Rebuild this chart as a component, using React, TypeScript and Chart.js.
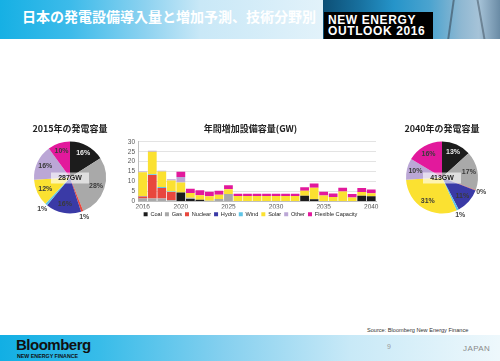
import React, { useEffect, useRef } from "react";
import { Chart, registerables } from "chart.js";

Chart.register(...registerables);

// ---------- data ----------
const technologies = ["Coal", "Gas", "Nuclear", "Hydro", "Wind", "Solar", "Other", "Flexible Capacity"];
const techColors = ["#1c1c1c", "#a9a9a9", "#e8473d", "#3a3aa6", "#5ec4e6", "#fbe131", "#bba7d6", "#e2199c"];

const years = [
  "2016", "2017", "2018", "2019", "2020", "2021", "2022", "2023", "2024", "2025",
  "2026", "2027", "2028", "2029", "2030", "2031", "2032", "2033", "2034", "2035",
  "2036", "2037", "2038", "2039", "2040",
];
const yearTickLabels = ["2016", "2020", "2025", "2030", "2035", "2040"];
const yTickValues = [0, 5, 10, 15, 20, 25, 30];

const coalAdds = [0, 0, 0, 0, 4.5, 1.2, 0.8, 0, 0, 0, 0, 0, 0, 0, 0, 0, 0, 2.8, 1.1, 0, 0, 0, 0, 2.8, 2.6];
const gasAdds = [1.5, 1.5, 1.5, 0.6, 0, 0.6, 0, 0.3, 1.2, 3.7, 0, 0, 0, 0, 0, 0, 0, 0, 0, 0, 0, 0, 0, 0, 0];
const nuclearAdds = [1, 11.8, 5.2, 4.1, 0, 0, 0, 0, 0, 0, 0, 0, 0, 0, 0, 0, 0, 0, 0, 0, 0, 0, 0, 0, 0];
const hydroAdds = [0, 0, 0, 0, 0, 0, 0, 0, 0, 0, 0, 0, 0, 0, 0, 0, 0, 0, 0, 0, 0, 0, 0, 0, 0];
const windAdds = [0.2, 0.4, 0.5, 0.3, 0, 0, 0, 0, 0, 0, 0, 0, 0, 0, 0, 0, 0, 0, 0, 0, 0, 0, 0, 0, 0];
const solarAdds = [12, 11.3, 7.9, 5.5, 5, 2.4, 2.3, 2.3, 2.1, 2.4, 2.7, 2.7, 2.7, 2.7, 2.7, 2.7, 2.7, 2.6, 5.8, 3, 2.2, 5, 2, 1.9, 1.5];
const otherAdds = [0.3, 0.5, 0.3, 0.7, 2.8, 0, 0, 0, 0, 0.2, 0, 0, 0, 0, 0, 0, 0, 0, 0, 0, 0, 0, 0, 0, 0];
const flexAdds = [0, 0, 0, 0, 2.6, 2.2, 2.5, 2.3, 2.1, 1.8, 1.2, 1.2, 1.2, 1.2, 1.2, 1.2, 1.2, 1.7, 2.1, 1.8, 1.8, 1.9, 1.7, 2.1, 1.9];

const share2015 = [16, 28, 1, 16, 1, 12, 16, 10];
const share2040 = [13.2, 17.4, 0.3, 11.4, 1.0, 30.6, 9.6, 16.4];
const total2015 = "287GW";
const total2040 = "413GW";

const barTitle = "年間増加設備容量(GW)";
const pieTitle2015 = "2015年の発電容量";
const pieTitle2040 = "2040年の発電容量";

const LATIN = '"Liberation Sans", Arial, sans-serif';
const CJK = '"Noto Sans CJK JP", "Liberation Sans", sans-serif';

// ---------- pie label plugin ----------
const pieLabelPlugin = {
  id: "pieLabels",
  afterDatasetsDraw(chart: any) {
    const ctx = chart.ctx;
    const meta = chart.getDatasetMeta(0);
    const data = chart.data.datasets[0].data as number[];
    ctx.save();
    ctx.font = `bold 7px ${LATIN}`;
    ctx.textAlign = "center";
    ctx.textBaseline = "middle";
    let cx = 0, cy = 0;
    meta.data.forEach((arc: any, i: number) => {
      const p = arc.getProps(["x", "y", "startAngle", "endAngle", "outerRadius"], true);
      cx = p.x; cy = p.y;
      const mid = (p.startAngle + p.endAngle) / 2;
      const v = data[i];
      const small = v < 3;
      const r = small ? p.outerRadius + 6 : p.outerRadius * 0.76;
      ctx.fillStyle = small ? "#444" : i === 0 ? "#eeeeee" : "#3a3a3a";
      ctx.fillText(Math.round(v) + "%", p.x + Math.cos(mid) * r, p.y + Math.sin(mid) * r);
    });
    const label = chart.options.plugins.pieLabels.center;
    ctx.fillStyle = "rgba(255,255,255,0.62)";
    ctx.fillRect(cx - 19, cy - 5, 38, 11);
    ctx.fillStyle = "#222";
    ctx.font = `bold 7px ${LATIN}`;
    ctx.fillText(label, cx, cy + 0.8);
    ctx.restore();
  },
};

function PieChart({ values, title, center }: { values: number[]; title: string; center: string }) {
  const ref = useRef<HTMLCanvasElement>(null);
  useEffect(() => {
    const chart = new Chart(ref.current!, {
      type: "pie",
      data: {
        labels: technologies,
        datasets: [{ data: values, backgroundColor: techColors, borderWidth: 0 }],
      },
      options: {
        responsive: false,
        animation: false,
        layout: { padding: { top: 0, bottom: 11.5, left: 0, right: 0 } },
        plugins: {
          legend: { display: false },
          tooltip: { enabled: false },
          title: {
            display: true,
            text: title,
            color: "#222",
            font: { family: CJK, size: 9, weight: "bold" },
            padding: { top: 3, bottom: 7.7 },
          },
          pieLabels: { center },
        } as any,
      },
      plugins: [pieLabelPlugin],
    });
    return () => chart.destroy();
  }, []);
  return <canvas ref={ref} width={100} height={105} style={{ width: 100, height: 105 }} />;
}

function BarChart() {
  const ref = useRef<HTMLCanvasElement>(null);
  useEffect(() => {
    const series = [coalAdds, gasAdds, nuclearAdds, hydroAdds, windAdds, solarAdds, otherAdds, flexAdds];
    const chart = new Chart(ref.current!, {
      type: "bar",
      data: {
        labels: years,
        datasets: technologies.map((t, i) => ({
          label: t,
          data: series[i],
          backgroundColor: techColors[i],
          borderWidth: 0,
          categoryPercentage: 0.92,
          barPercentage: 1,
        })),
      },
      options: {
        responsive: false,
        animation: false,
        layout: { padding: { left: 0, right: 7, top: 0, bottom: 0 } },
        scales: {
          x: {
            stacked: true,
            afterFit: (s: any) => { s.height = 7; },
            grid: { display: false, drawTicks: false },
            border: { display: true, color: "#bfbfbf" },
            ticks: {
              autoSkip: false,
              maxRotation: 0,
              padding: 2,
              color: "#555",
              font: { family: LATIN, size: 6.5 },
              callback: (_v: any, idx: number) => (yearTickLabels.includes(years[idx]) ? years[idx] : ""),
            },
          },
          y: {
            stacked: true,
            min: 0,
            max: 30,
            afterFit: (s: any) => { s.width = 13; },
            afterBuildTicks: (s: any) => { s.ticks = yTickValues.map((v) => ({ value: v })); },
            grid: { color: "#dcdcdc", lineWidth: 0.8, drawTicks: false },
            border: { display: true, color: "#bfbfbf" },
            ticks: { autoSkip: false, color: "#555", padding: 3, font: { family: LATIN, size: 6.5 } },
          },
        },
        plugins: {
          tooltip: { enabled: false },
          title: {
            display: true,
            text: barTitle,
            color: "#222",
            font: { family: CJK, size: 9, weight: "bold" },
            padding: { top: 7, bottom: 8 },
          },
          legend: {
            position: "bottom",
            labels: {
              boxWidth: 4,
              boxHeight: 4,
              padding: 3,
              color: "#222",
              font: { family: LATIN, size: 5.6 },
            },
          },
        },
      },
    });
    return () => chart.destroy();
  }, []);
  return <canvas ref={ref} width={258} height={111} style={{ width: 258, height: 111 }} />;
}

export default function App() {
  return (
    <div style={{ position: "absolute", left: 0, top: 0, width: 500, height: 361, background: "#fff", overflow: "hidden" }}>
      {/* header */}
      <div
        style={{
          position: "absolute", left: 0, top: 0, width: 323, height: 39,
          background: "linear-gradient(to right, #16b0e4 0%, #3dbbea 22%, #8dd2f0 45%, #c9e8f7 62%, #e2f2fa 100%)",
        }}
      />
      <div
        style={{
          position: "absolute", left: 323, top: 0, width: 177, height: 39,
          background: "linear-gradient(to right, #0d4f75 0%, #176f9d 20%, #2594c9 40%, #4aa3cf 60%, #8fb8d2 78%, #a6c3d8 88%, #6a8ba5 100%)",
        }}
      />
      <div style={{ position: "absolute", left: 450, top: 0, width: 2, height: 39, background: "#3b4b5a", opacity: 0.6, transform: "skewX(-8deg)" }} />
      <div style={{ position: "absolute", left: 480, top: 0, width: 2, height: 39, background: "#3b4b5a", opacity: 0.5, transform: "skewX(10deg)" }} />
      <div
        style={{
          position: "absolute", left: 22, top: 7, color: "#fff", fontFamily: CJK, fontWeight: "bold",
          fontSize: 14, lineHeight: "18px", whiteSpace: "nowrap",
        }}
      >
        日本の発電設備導入量と増加予測、技術分野別
      </div>
      <div
        style={{
          position: "absolute", left: 324, top: 12, width: 109, height: 27, background: "#000",
          color: "#fff", fontFamily: LATIN, fontWeight: "bold", fontSize: 12, lineHeight: "11.5px",
          letterSpacing: 0.6, boxSizing: "border-box", paddingLeft: 4, paddingTop: 2.5, whiteSpace: "nowrap",
        }}
      >
        NEW ENERGY<br />OUTLOOK 2016
      </div>

      {/* charts */}
      <div style={{ position: "absolute", left: 20, top: 120 }}>
        <PieChart values={share2015} title={pieTitle2015} center={total2015} />
      </div>
      <div style={{ position: "absolute", left: 125, top: 116 }}>
        <BarChart />
      </div>
      <div style={{ position: "absolute", left: 392, top: 120 }}>
        <PieChart values={share2040} title={pieTitle2040} center={total2040} />
      </div>

      {/* footer */}
      <div
        style={{
          position: "absolute", left: 367, top: 327, fontFamily: LATIN, fontSize: 5.6, color: "#333", whiteSpace: "nowrap",
        }}
      >
        Source: Bloomberg New Energy Finance
      </div>
      <div
        style={{
          position: "absolute", left: 0, top: 335, width: 500, height: 26,
          background: "linear-gradient(to right, #12afe4 0%, #38bce9 20%, #86d0ef 45%, #c8e9f7 70%, #eef8fc 100%)",
        }}
      />
      <div
        style={{
          position: "absolute", left: 16, top: 337, fontFamily: LATIN, fontWeight: "bold", fontSize: 15,
          letterSpacing: -0.5, lineHeight: "15px", color: "#111", whiteSpace: "nowrap",
        }}
      >
        Bloomberg
      </div>
      <div
        style={{
          position: "absolute", left: 17, top: 352.5, fontFamily: LATIN, fontWeight: "bold", fontSize: 5.3,
          lineHeight: "6px", color: "#111", whiteSpace: "nowrap",
        }}
      >
        NEW ENERGY FINANCE
      </div>
      <div style={{ position: "absolute", left: 387, top: 343, fontFamily: LATIN, fontSize: 7, color: "#9a9a9a" }}>9</div>
      <div
        style={{
          position: "absolute", left: 463, top: 344, fontFamily: LATIN, fontSize: 8, color: "#8a8a8a", letterSpacing: 0.4,
          lineHeight: "10px",
        }}
      >
        JAPAN
      </div>
    </div>
  );
}
